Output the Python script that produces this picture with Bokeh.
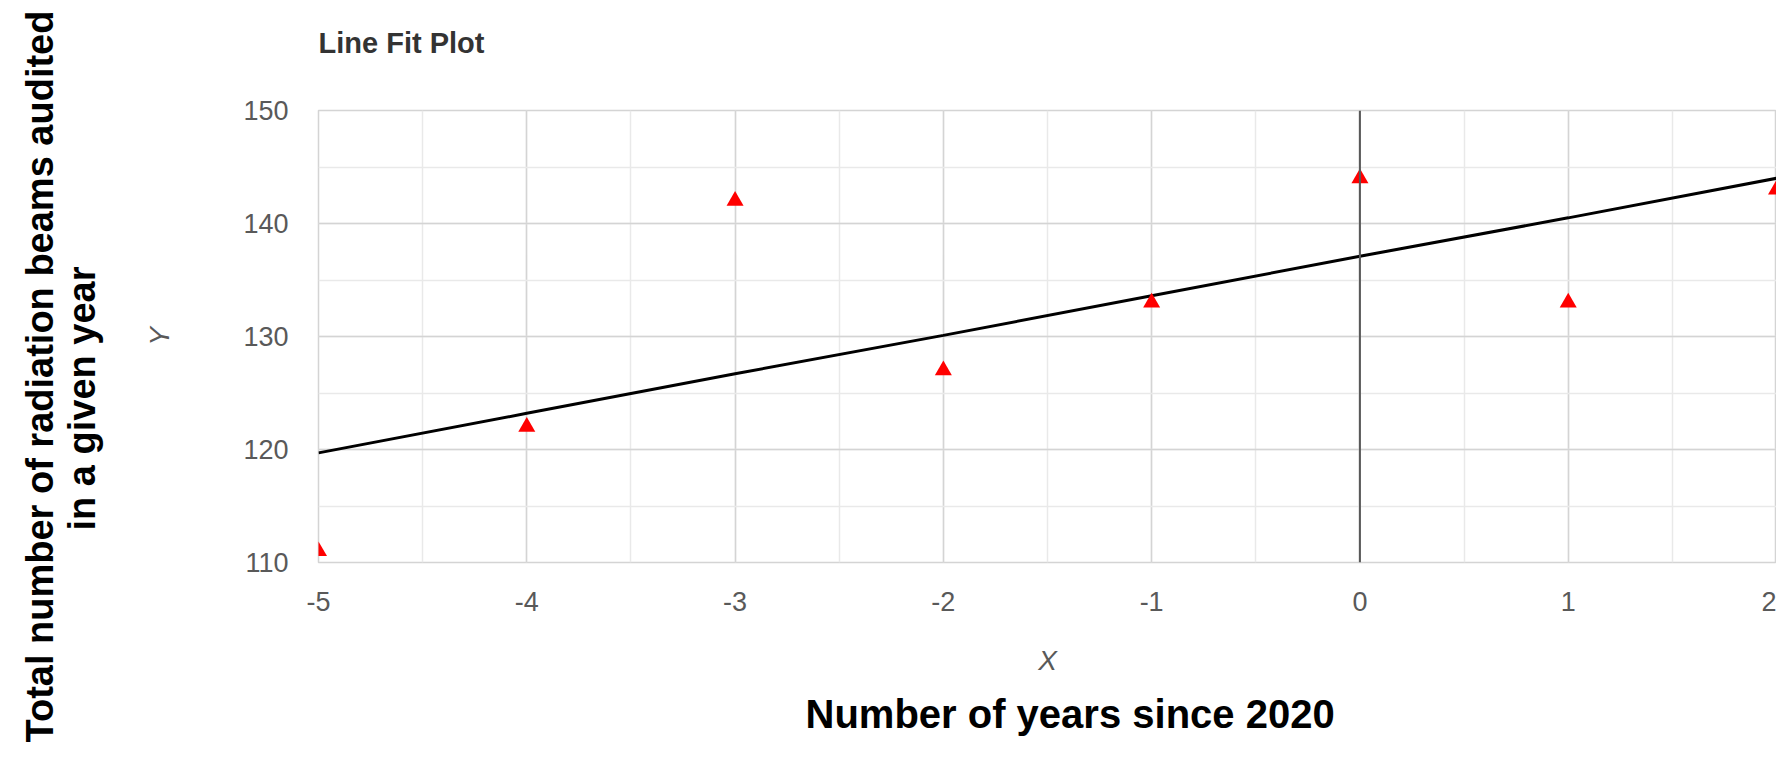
import math
from bokeh.plotting import figure
from bokeh.layouts import row, column
from bokeh.models import (Range1d, SingleIntervalTicker, Span,
                          ColumnDataSource, PrintfTickFormatter)
from bokeh.core.properties import value
from bokeh.embed import file_html
from bokeh.resources import INLINE

# ---- data ----
years = [-5, -4, -3, -2, -1, 0, 1, 2]                      # X: number of years since 2020
beams = [111, 122, 142, 127, 133, 144, 133, 143]           # Y: audited beams
predicted = [119.7, 123.2, 126.7, 130.1, 133.6, 137.1, 140.5, 144.0]  # fitted line values
title_text = "Line Fit Plot"
x_title = "X"
y_title = "Y"
x_caption = "Number of years since 2020"
y_caption_1 = "Total number of radiation beams audited"
y_caption_2 = "in a given year"

FONT = "Liberation Sans"
LEFT_W = 130                      # width of the left caption strip
TOTAL_W, TOTAL_H = 1776, 779
TOP_H, BOTTOM_H = 70, 89
MAIN_W = TOTAL_W - LEFT_W
MAIN_H = TOTAL_H - TOP_H - BOTTOM_H
FRAME_L = 318 - LEFT_W            # plot frame left inside the main figure


def text_strip(w, h, border_left=0):
    f = figure(width=w, height=h, title=None,
               x_range=Range1d(border_left, w), y_range=Range1d(0, h),
               output_backend="svg", toolbar_location=None,
               x_axis_location=None, y_axis_location=None,
               min_border_left=border_left, min_border_right=0,
               min_border_top=0, min_border_bottom=0)
    f.xgrid.visible = False
    f.ygrid.visible = False
    f.outline_line_color = None
    f.background_fill_color = "white"
    f.border_fill_color = "white"
    return f


# ---- left strip: two-line vertical caption ----
left = text_strip(LEFT_W, TOTAL_H)
left.text(x=[39], y=[TOTAL_H - 376], text=[y_caption_1], angle=math.pi / 2,
          text_align="center", text_baseline="middle",
          text_font=value(FONT), text_font_size="38px", text_font_style="bold",
          text_color="black")
left.text(x=[81], y=[TOTAL_H - 398], text=[y_caption_2], angle=math.pi / 2,
          text_align="center", text_baseline="middle",
          text_font=value(FONT), text_font_size="38px", text_font_style="bold",
          text_color="black")

# ---- top strip: chart title ----
top = text_strip(MAIN_W, TOP_H, FRAME_L)
top.text(x=[FRAME_L], y=[TOP_H - 42], text=[title_text],
         text_align="left", text_baseline="middle",
         text_font=value(FONT), text_font_size="29px", text_font_style="bold",
         text_color="#333333")

# ---- bottom strip: horizontal caption ----
bottom = text_strip(MAIN_W, BOTTOM_H, FRAME_L)
bottom.text(x=[805 - LEFT_W], y=[TOTAL_H - 713.5], text=[x_caption],
            text_align="left", text_baseline="middle",
            text_font=value(FONT), text_font_size="40px", text_font_style="bold",
            text_color="black")

# ---- main plot ----
src = ColumnDataSource(data=dict(x=years, y=beams, p=predicted))

p = figure(width=MAIN_W, height=MAIN_H, title=None,
           x_range=Range1d(-5, 2), y_range=Range1d(110, 150),
           output_backend="svg", toolbar_location=None,
           min_border_left=FRAME_L, min_border_right=0,
           min_border_top=110 - TOP_H, min_border_bottom=TOP_H + MAIN_H - 562)

p.background_fill_color = "white"
p.border_fill_color = "white"
p.outline_line_color = "#d4d4d4"
p.outline_line_width = 1.5

p.xaxis.ticker = SingleIntervalTicker(interval=1, num_minor_ticks=2)
p.yaxis.ticker = SingleIntervalTicker(interval=10, num_minor_ticks=2)
p.xaxis.formatter = PrintfTickFormatter(format="%d")
p.yaxis.formatter = PrintfTickFormatter(format="%d")

for ax in (p.xaxis[0], p.yaxis[0]):
    ax.axis_line_color = None
    ax.major_tick_line_color = None
    ax.minor_tick_line_color = None
    ax.major_tick_out = 0
    ax.major_tick_in = 0
    ax.minor_tick_out = 0
    ax.minor_tick_in = 0
    ax.major_label_text_font = FONT
    ax.major_label_text_font_size = "27px"
    ax.major_label_text_color = "#595959"
    ax.axis_label_text_font = FONT
    ax.axis_label_text_font_size = "28px"
    ax.axis_label_text_font_style = "italic"
    ax.axis_label_text_color = "#595959"

p.xaxis[0].axis_label = x_title
p.xaxis[0].major_label_standoff = 29
p.xaxis[0].axis_label_standoff = 31
p.yaxis[0].axis_label = y_title
p.yaxis[0].major_label_standoff = 30
p.yaxis[0].axis_label_standoff = 65

for g in (p.xgrid, p.ygrid):
    g.grid_line_color = "#d4d4d4"
    g.grid_line_width = 1.5
    g.minor_grid_line_color = "#e9e9e9"
    g.minor_grid_line_width = 1.5

# vertical axis drawn at x = 0
p.add_layout(Span(location=0, dimension="height", line_color="#595959", line_width=2))

p.line("x", "p", source=src, line_color="black", line_width=3)
p.scatter("x", "y", source=src, marker="triangle", size=17,
          fill_color="#ff0000", line_color=None)

layout = row(left, column(top, p, bottom))

open("out.html", "w").write(file_html(layout, INLINE))
